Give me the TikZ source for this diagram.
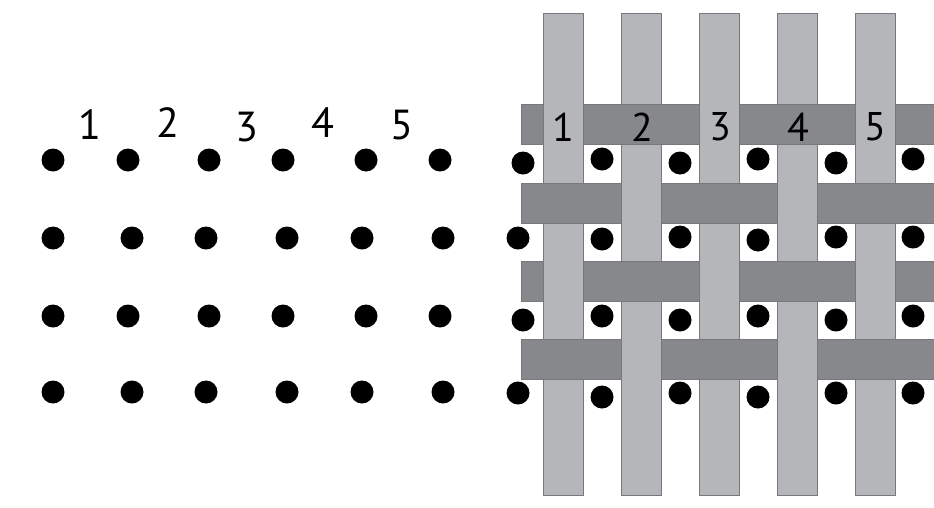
\documentclass[tikz,border=0pt]{standalone}
\usepackage{fontspec}
\setmainfont{PT Sans}
\usepackage{xcolor}
\usepackage{tikz}
\definecolor{grisclaro}{HTML}{B5B6B9}
\definecolor{grisoscuro}{HTML}{87888C}
\definecolor{borde}{HTML}{77787B}

\begin{document}
\begin{tikzpicture}[x=1pt, y=-1pt, font=\fontsize{42}{46}\selectfont,
    urdimbre/.style={fill=grisclaro, draw=borde, line width=0.6pt},
    trama/.style={fill=grisoscuro, draw=borde, line width=0.6pt},
    punto/.style={fill=black}]
  \useasboundingbox (0,0) rectangle (934,507);
  % dots, left grid
  \foreach \y/\xs in {160/{53,128,209,283,366,440}, 238/{53,132,206,287,362,443},
                      316/{53,128,209,283,366,440}, 392/{53,132,206,287,362,443}}{
    \foreach \x in \xs
      \fill[punto] (\x,\y) circle (11.5);
  }
  \foreach \i/\x/\y in {1/90/125, 2/168/123, 3/247/127, 4/323/123, 5/402/125}
    \node[inner sep=0] (n\i) at (\x,\y) {\i};
  % weave: warp strips, weft bands, then warp on top where it passes over
  \foreach \x in {543,621,699,777,855}
    \draw[urdimbre] (\x,13) rectangle ++(40,482);
  \foreach \y in {104,183,261,339}
    \draw[trama] (521,\y) rectangle (934,\y+40);
  \foreach \x/\y in {543/104, 699/104, 855/104, 621/183, 777/183,
                     543/261, 699/261, 855/261, 621/339, 777/339}{
    \fill[grisclaro] (\x,\y-0.5) rectangle ++(40,41);
    \draw[borde, line width=0.6pt] (\x,\y-0.5) -- ++(0,41) (\x+40,\y-0.5) -- ++(0,41);
  }
  % dots, right grid
  \foreach \x/\y in {523/163, 602/159, 680/163, 758/159, 836/163, 913/159,
                     518/238, 602/239, 680/237, 758/240, 836/237, 913/237,
                     523/320, 602/316, 680/320, 758/316, 836/320, 913/316,
                     518/393, 602/397, 680/393, 758/397, 836/393, 913/393}
    \fill[punto] (\x,\y) circle (11.5);
  \foreach \i/\x in {1/563, 2/642, 3/720, 4/798, 5/875}
    \node[inner sep=0, font=\fontsize{40}{44}\selectfont] (m\i) at (\x,127) {\i};
\end{tikzpicture}
\end{document}
